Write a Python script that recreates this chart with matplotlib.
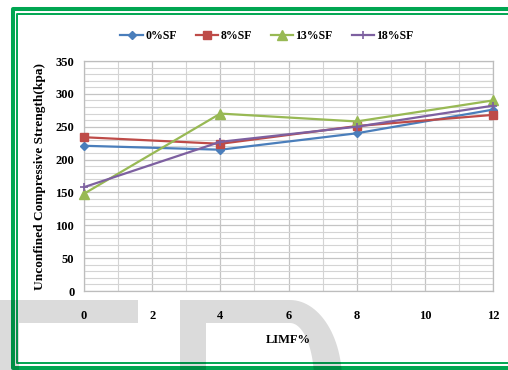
import numpy as np
import matplotlib
matplotlib.use('Agg')
import matplotlib.pyplot as plt
from matplotlib.lines import Line2D
from matplotlib.patches import Polygon

plt.rcParams['font.family'] = ['Liberation Serif', 'DejaVu Serif']
plt.rcParams['font.weight'] = 'bold'

# LIMF content (%) and UCS for each silica fume dose
limf = [0, 4, 8, 12]
ucs_0sf = [221, 215, 240, 276]
ucs_8sf = [234, 224, 251, 268]
ucs_13sf = [148, 270, 258, 290]
ucs_18sf = [158, 227, 250, 282]
series_names = ['0%SF', '8%SF', '13%SF', '18%SF']
x_ticks = [0, 2, 4, 6, 8, 10, 12]
y_ticks = [0, 50, 100, 150, 200, 250, 300, 350]

W, H = 508, 370
fig = plt.figure(figsize=(W / 100, H / 100), dpi=100)
ax = fig.add_axes([84 / W, 1 - 291 / H, (493 - 84) / W, (291 - 61) / H])


def px(x, y):
    # pixel position -> figure fraction
    return (x / W, 1 - y / H)


styles = [
    dict(color='#4a7ebb', marker='D', markersize=4),
    dict(color='#be4b48', marker='s', markersize=6),
    dict(color='#98b954', marker='^', markersize=7),
    dict(color='#7d60a0', marker='+', markersize=6, markeredgewidth=1.2),
]
for vals, name, st in zip([ucs_0sf, ucs_8sf, ucs_13sf, ucs_18sf], series_names, styles):
    ax.plot(limf, vals, linewidth=1.6, label=name, clip_on=False, zorder=3, **st)

ax.set_xlim(0, 12)
ax.set_ylim(0, 350)
ax.set_xticks(x_ticks)
ax.set_yticks(y_ticks)
ax.set_xticks(np.arange(0, 13, 1), minor=True)
ax.set_yticks(np.arange(0, 351, 10), minor=True)
ax.grid(True, which='major', color='#c4c4c4', linewidth=0.9)
ax.grid(True, which='minor', color='#d4d4d4', linewidth=0.8)
ax.tick_params(which='both', length=0)
ax.tick_params(axis='x', pad=14, labelsize=9)
ax.tick_params(axis='y', pad=7, labelsize=9)
for s in ax.spines.values():
    s.set_color('#bdbdbd')
    s.set_linewidth(0.9)

ax.set_ylabel('Unconfined Compressive Strength(kpa)', fontsize=9.6, fontweight='bold', labelpad=7)
ax.set_xlabel('LIMF%', fontsize=9, fontweight='bold', labelpad=8)

fig.legend(loc='center', bbox_to_anchor=px(267, 36), ncol=4, frameon=False,
           fontsize=8.5, handlelength=1.9, columnspacing=1.6, handletextpad=0.2)

# green double frame
green = '#00a651'
for (x0, y0, y1, lw) in [(13, 9, 367.5, 2.9), (17, 14, 362.8, 1.4)]:
    xs, ys = zip(px(W, y0), px(x0, y0), px(x0, y1), px(W, y1))
    fig.add_artist(Line2D(xs, ys, color=green, linewidth=lw, transform=fig.transFigure))

# grey letter shapes along the bottom edge
shape1 = [(0, 300), (138, 300), (138, 323), (19, 323), (19, 372), (0, 372)]
t = np.linspace(0, np.pi / 2, 30)
outer = [(290 + 52 * np.sin(a), 380 - 80 * np.cos(a)) for a in t]
inner = [(290 + 24 * np.sin(a), 380 - 57 * np.cos(a)) for a in t[::-1]]
shape2 = [(180, 372), (180, 300)] + outer + [(342, 372), (314, 372)] + inner + [(206, 323), (206, 372)]
for shp in [shape1, shape2]:
    fig.add_artist(Polygon([px(x, y) for x, y in shp], closed=True, facecolor='black',
                           edgecolor='none', alpha=0.14, transform=fig.transFigure, zorder=10))

fig.savefig('out.png', dpi=100)
